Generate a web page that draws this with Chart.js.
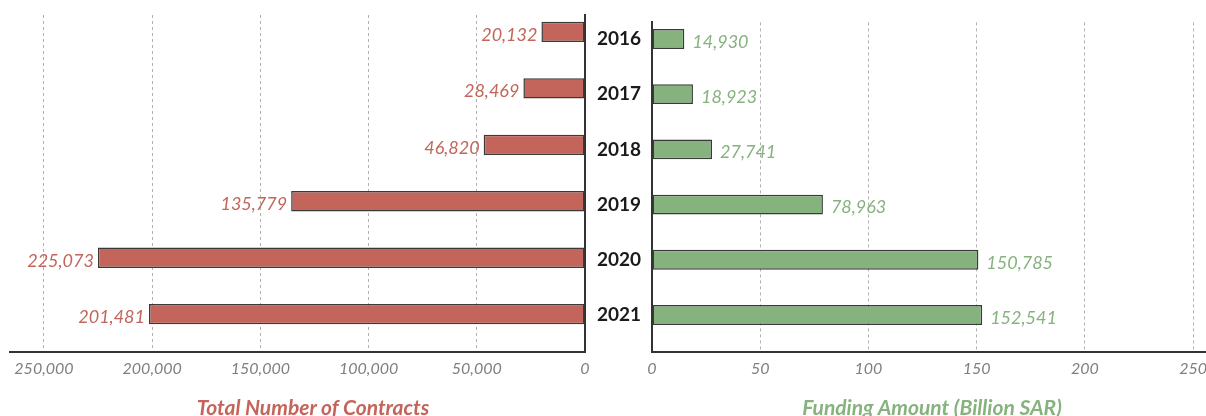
<!DOCTYPE html>
<html lang="en">
<head>
<meta charset="UTF-8">
<title>Contracts and Funding</title>
<script src="https://cdn.jsdelivr.net/npm/chart.js"></script>
<style>
  html, body { margin: 0; padding: 0; background: #fff; }
  body { width: 1206px; height: 416px; overflow: hidden; position: relative; font-family: Lato, sans-serif; }
  #leftBox { position: absolute; left: 0; top: 0; width: 600px; height: 416px; }
  #rightBox { position: absolute; left: 585px; top: 0; width: 645px; height: 416px; }
  .ttl { position: absolute; top: 394px; font-weight: bold; font-style: italic; font-size: 21px; white-space: nowrap; transform: translateX(-50%); }
</style>
</head>
<body>
<div id="leftBox"><canvas id="leftChart"></canvas></div>
<div id="rightBox"><canvas id="rightChart"></canvas></div>
<div class="ttl" style="left:313px;color:#c3655a">Total Number of Contracts</div>
<div class="ttl" style="left:932px;color:#86b27e">Funding Amount (Billion SAR)</div>
<script>
const years = ['2016', '2017', '2018', '2019', '2020', '2021'];
const contracts = [20132, 28469, 46820, 135779, 225073, 201481];
const funding = [14.930, 18.923, 27.741, 78.963, 150.785, 152.541];
const contractTicks = [250000, 200000, 150000, 100000, 50000, 0];
const fundingTicks = [0, 50, 100, 150, 200, 250];

const red = '#c3655a';
const green = '#86b27e';
const font = 'Lato, sans-serif';

// value labels next to bar ends
const barLabels = {
    id: 'barLabels',
    afterDatasetsDraw(chart, args, opts) {
        const ctx = chart.ctx;
        const meta = chart.getDatasetMeta(0);
        const data = chart.data.datasets[0].data;
        ctx.save();
        ctx.font = 'italic 18px ' + font;
        ctx.fillStyle = opts.color;
        ctx.textBaseline = 'middle';
        ctx.textAlign = opts.side === 'left' ? 'right' : 'left';
        meta.data.forEach((bar, i) => {
            const x = opts.side === 'left' ? bar.x - 4 : bar.x + 8;
            ctx.fillText(opts.format(data[i].x), x, bar.y + 3);
        });
        ctx.restore();
    }
};

function xAxis(max, tickVals, reverse, fmt) {
    return {
        type: 'linear',
        reverse: reverse,
        min: 0,
        max: max,
        afterBuildTicks: s => { s.ticks = tickVals.map(v => ({ value: v })); },
        afterFit: s => { s.height = 64; },
        grid: { color: '#b0b0b0', lineWidth: 1, drawTicks: false },
        border: { display: true, color: '#333', width: 2, dash: [3, 3] },
        ticks: {
            autoSkip: false,
            maxRotation: 0,
            padding: 7,
            color: '#7f7f7f',
            font: { family: font, size: 16, style: 'italic' },
            callback: fmt
        }
    };
}

// years sit on a numeric index axis so the rows can be placed like the original
function yAxis(pos, showLabels) {
    return {
        type: 'linear',
        position: pos,
        reverse: true,
        offset: false,
        min: -0.3,
        max: 5.67,
        afterBuildTicks: s => { s.ticks = years.map((y, i) => ({ value: i })); },
        afterFit: s => { s.width = pos === 'right' ? 15 : 67; },
        grid: { display: false, drawTicks: false, offset: false },
        border: { display: true, color: '#333', width: 2 },
        ticks: {
            display: showLabels,
            autoSkip: false,
            padding: 11,
            color: '#1a1a1a',
            font: { family: font, size: 19, weight: 'bold' },
            callback: v => years[v]
        }
    };
}

function barSet(vals, color) {
    return {
        data: vals.map((v, i) => ({ x: v, y: i })),
        backgroundColor: color,
        borderColor: '#3a3a3a',
        borderWidth: 1.5,
        borderSkipped: false,
        barPercentage: 0.36,
        categoryPercentage: 1
    };
}

new Chart(document.getElementById('leftChart'), {
    type: 'bar',
    data: { datasets: [barSet(contracts, red)] },
    options: {
        indexAxis: 'y',
        responsive: true,
        maintainAspectRatio: false,
        animation: false,
        layout: { padding: { top: 15, left: 10, right: 0, bottom: 0 } },
        plugins: {
            legend: { display: false },
            tooltip: { enabled: false },
            barLabels: { side: 'left', color: red, format: v => v.toLocaleString('en-US') }
        },
        scales: {
            x: xAxis(265700, contractTicks, true, v => v.toLocaleString('en-US')),
            y: yAxis('right', false)
        }
    },
    plugins: [barLabels]
});

new Chart(document.getElementById('rightChart'), {
    type: 'bar',
    data: { datasets: [barSet(funding, green)] },
    options: {
        indexAxis: 'y',
        responsive: true,
        maintainAspectRatio: false,
        animation: false,
        layout: { padding: { top: 15, left: 0, right: 12, bottom: 0 } },
        plugins: {
            legend: { display: false },
            tooltip: { enabled: false },
            barLabels: { side: 'right', color: green, format: v => v.toFixed(3).replace('.', ',') }
        },
        scales: {
            x: xAxis(261.5, fundingTicks, false, v => String(v)),
            y: yAxis('left', true)
        }
    },
    plugins: [barLabels]
});
</script>
</body>
</html>
